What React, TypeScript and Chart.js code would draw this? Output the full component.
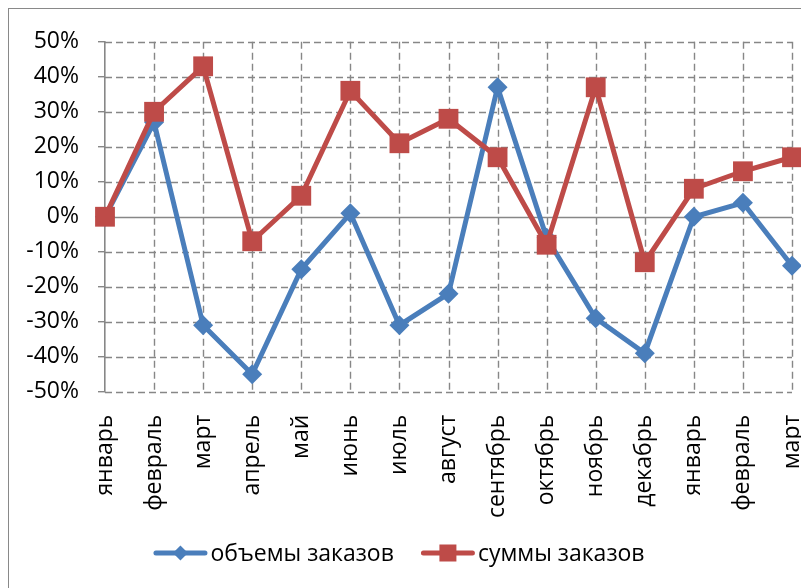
import React, { useEffect, useRef } from "react";
import { Chart, registerables } from "chart.js";

Chart.register(...registerables);

const categories = [
  "январь", "февраль", "март", "апрель", "май", "июнь", "июль", "август",
  "сентябрь", "октябрь", "ноябрь", "декабрь", "январь", "февраль", "март",
];
const volumeValues = [0, 27, -31, -45, -15, 1, -31, -22, 37, -6, -29, -39, 0, 4, -14];
const sumValues = [0, 30, 43, -7, 6, 36, 21, 28, 17, -8, 37, -13, 8, 13, 17];
const seriesLabels = ["объемы заказов", "суммы заказов"];
const yMin = -50;
const yMax = 50;
const yStep = 10;

const BLUE = "#4A7EBB";
const RED = "#BE4B48";
const GRID = "#878787";
const FONT = "'Open Sans', 'Noto Sans', sans-serif";
const FONT_SIZE = 23;
const DASH = [7, 4];

const gridPlugin = {
  id: "dashedGrid",
  beforeDatasetsDraw(chart: any) {
    const { ctx, chartArea } = chart;
    const xs = chart.scales.x;
    const ys = chart.scales.y;
    ctx.save();
    ctx.strokeStyle = GRID;
    ctx.lineWidth = 1.4;
    ctx.setLineDash(DASH);
    ys.ticks.forEach((t: any) => {
      if (t.value === 0) return;
      const y = Math.round(ys.getPixelForValue(t.value)) + 0.5;
      ctx.beginPath();
      ctx.moveTo(chartArea.left, y);
      ctx.lineTo(chartArea.right, y);
      ctx.stroke();
    });
    xs.ticks.forEach((_t: any, i: number) => {
      if (i === 0) return;
      const x = Math.round(xs.getPixelForTick(i)) + 0.5;
      ctx.beginPath();
      ctx.moveTo(x, chartArea.top);
      ctx.lineTo(x, chartArea.bottom);
      ctx.stroke();
    });
    ctx.setLineDash([]);
    ctx.lineWidth = 1.6;
    const y0 = Math.round(ys.getPixelForValue(0)) + 0.5;
    ctx.beginPath();
    ctx.moveTo(chartArea.left, y0);
    ctx.lineTo(chartArea.right, y0);
    ctx.stroke();
    ctx.restore();
  },
};

const LEGEND_CX = 390;
const LEGEND_Y = 544;
const ICON_W = 54;

const legendPlugin = {
  id: "lineLegend",
  afterDraw(chart: any) {
    const ctx = chart.ctx;
    const colors = [BLUE, RED];
    ctx.save();
    ctx.font = `${FONT_SIZE}px ${FONT}`;
    ctx.textBaseline = "middle";
    const widths = seriesLabels.map((t) => ctx.measureText(t).width);
    const gapText = 3;
    const gapItem = 27;
    const total =
      widths.reduce((a, w) => a + ICON_W + gapText + w, 0) + gapItem * (seriesLabels.length - 1);
    let x = LEGEND_CX - total / 2;
    seriesLabels.forEach((t, i) => {
      const c = colors[i];
      ctx.strokeStyle = c;
      ctx.fillStyle = c;
      ctx.lineWidth = 5;
      ctx.lineCap = "round";
      ctx.beginPath();
      ctx.moveTo(x + 2.5, LEGEND_Y);
      ctx.lineTo(x + ICON_W - 2.5, LEGEND_Y);
      ctx.stroke();
      const cx = x + ICON_W / 2;
      if (i === 0) {
        ctx.beginPath();
        ctx.moveTo(cx, LEGEND_Y - 7.5);
        ctx.lineTo(cx + 7.5, LEGEND_Y);
        ctx.lineTo(cx, LEGEND_Y + 7.5);
        ctx.lineTo(cx - 7.5, LEGEND_Y);
        ctx.closePath();
        ctx.fill();
      } else {
        ctx.fillRect(cx - 8.5, LEGEND_Y - 8.5, 17, 17);
      }
      ctx.fillStyle = "#000";
      ctx.fillText(t, x + ICON_W + gapText, LEGEND_Y + 1);
      x += ICON_W + gapText + widths[i] + gapItem;
    });
    ctx.restore();
  },
};

export default function App() {
  const ref = useRef<HTMLCanvasElement>(null);

  useEffect(() => {
    if (!ref.current) return;
    const chart = new Chart(ref.current, {
      type: "line",
      data: {
        labels: categories,
        datasets: [
          {
            label: seriesLabels[0],
            data: volumeValues,
            borderColor: BLUE,
            backgroundColor: BLUE,
            pointBackgroundColor: BLUE,
            borderWidth: 5,
            pointStyle: "rectRot",
            pointRadius: 10,
            pointBorderWidth: 0,
            tension: 0,
            clip: false as any,
            order: 1,
          },
          {
            label: seriesLabels[1],
            data: sumValues,
            borderColor: RED,
            backgroundColor: RED,
            pointBackgroundColor: RED,
            borderWidth: 5,
            pointStyle: "rect",
            pointRadius: 14,
            pointBorderWidth: 0,
            tension: 0,
            clip: false as any,
            order: 0,
          },
        ],
      },
      options: {
        animation: false,
        responsive: false,
        layout: { padding: { left: 0, right: 29, top: 28, bottom: 80 } },
        plugins: {
          tooltip: { enabled: false },
          legend: { display: false },
        },
        scales: {
          x: {
            type: "category",
            offset: false,
            grid: { drawOnChartArea: false, drawTicks: false },
            border: { display: false },
            ticks: {
              autoSkip: false,
              minRotation: 90,
              maxRotation: 90,
              padding: 23,
              color: "#000",
              font: { family: FONT, size: FONT_SIZE },
            },
            afterFit: (s: any) => {
              s.height = 137.3;
              s.paddingLeft = 0;
              s.paddingRight = 0;
            },
          },
          y: {
            min: yMin,
            max: yMax,
            ticks: {
              stepSize: yStep,
              padding: 19,
              color: "#000",
              font: { family: FONT, size: FONT_SIZE },
              callback: (v: any) => `${v}%`,
            },
            grid: {
              drawOnChartArea: false,
              color: GRID,
              lineWidth: 1.4,
              tickLength: 7,
              tickColor: GRID,
            },
            border: { display: true, color: GRID, width: 1.6 },
            afterFit: (s: any) => {
              s.width = 96;
            },
          },
        },
      },
      plugins: [gridPlugin, legendPlugin],
    });
    return () => chart.destroy();
  }, []);

  return (
    <div style={{ width: 801, height: 580, overflow: "hidden" }}>
      <div style={{ width: 812, height: 600, border: "1px solid #898989" }}>
        <canvas ref={ref} width={812} height={600} style={{ display: "block" }} />
      </div>
    </div>
  );
}
